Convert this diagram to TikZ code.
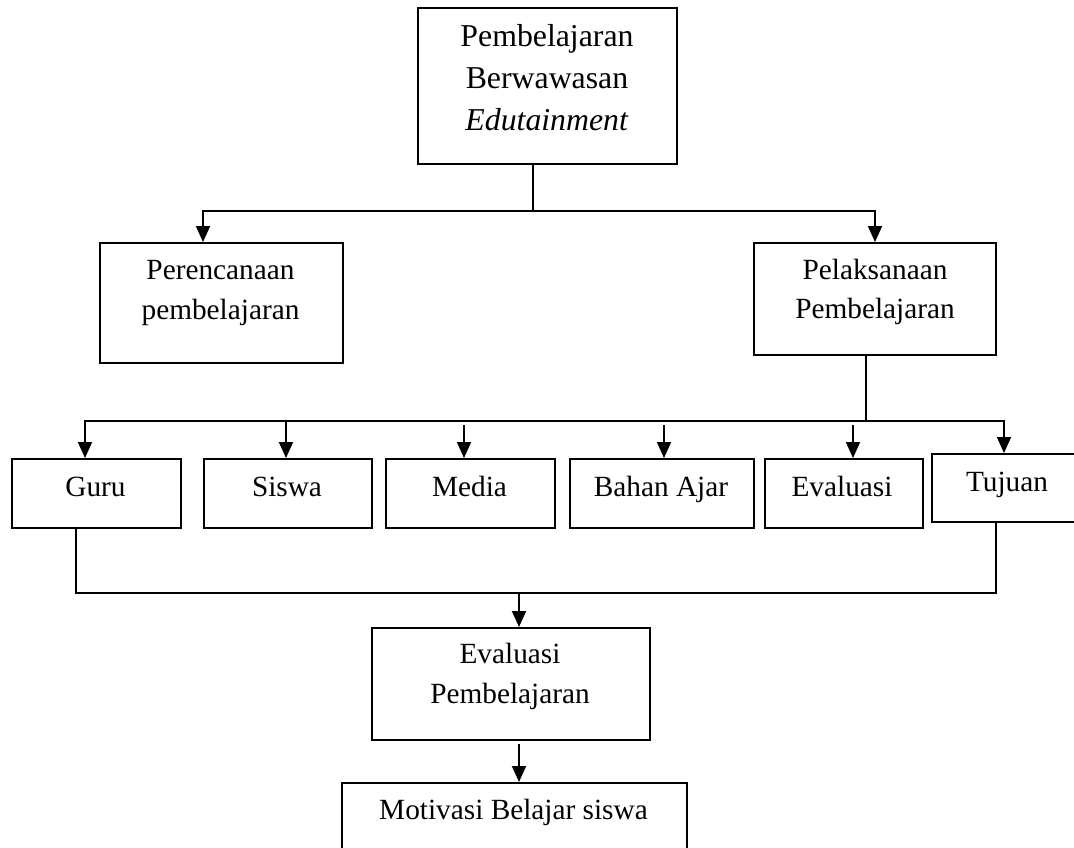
\documentclass[tikz,border=0pt]{standalone}
\usepackage{fontspec}
\setmainfont{Liberation Serif}
\usetikzlibrary{arrows.meta}
\begin{document}
\begin{tikzpicture}[x=1pt,y=-1pt,
  box/.style={draw, line width=1.9pt, rectangle, inner sep=0pt, anchor=north west},
  lbl/.style={anchor=base, inner sep=0pt, font=\fontsize{29.3}{35}\selectfont},
  biglbl/.style={anchor=base, inner sep=0pt, font=\fontsize{31.8}{38}\selectfont},
  conn/.style={line width=1.9pt},
  arr/.style={conn, -{Triangle[length=16pt,width=14pt]}}]
\useasboundingbox (0,0) rectangle (1074,848);
% boxes
\node[box, minimum width=259pt, minimum height=156pt] (top) at (417,7) {};
\node[box, minimum width=243pt, minimum height=120pt] (per) at (99,242) {};
\node[box, minimum width=242pt, minimum height=112pt] (pel) at (753,242) {};
\node[box, minimum width=169pt, minimum height=69pt] (guru) at (11,458) {};
\node[box, minimum width=168pt, minimum height=69pt] (siswa) at (203,458) {};
\node[box, minimum width=169pt, minimum height=69pt] (media) at (385,458) {};
\node[box, minimum width=184pt, minimum height=69pt] (bahan) at (569,458) {};
\node[box, minimum width=158pt, minimum height=69pt] (evalb) at (764,458) {};
\node[box, minimum width=150pt, minimum height=68pt] (tuj) at (931,453) {};
\node[box, minimum width=278pt, minimum height=112pt] (evp) at (371,627) {};
\node[box, minimum width=345pt, minimum height=85pt] (mot) at (341,782) {};
% texts
\node[biglbl] (t1) at (547,47) {Pembelajaran};
\node[biglbl] (t2) at (547,89) {Berwawasan};
\node[biglbl] (t3) at (547,131) {\textit{Edutainment}};
\node[lbl] (p1) at (220.5,279) {Perencanaan};
\node[lbl] (p2) at (220.5,319) {pembelajaran};
\node[lbl] (l1) at (875,279) {Pelaksanaan};
\node[lbl] (l2) at (875,318) {Pembelajaran};
\node[lbl] (g1) at (95.5,496) {Guru};
\node[lbl] (s1) at (287,496) {Siswa};
\node[lbl] (m1) at (469.5,496) {Media};
\node[lbl] (b1) at (661,496) {Bahan Ajar};
\node[lbl] (e1) at (842,496) {Evaluasi};
\node[lbl] (u1) at (1007,491) {Tujuan};
\node[lbl] (v1) at (510,663) {Evaluasi};
\node[lbl] (v2) at (510,703) {Pembelajaran};
\node[lbl] (o1) at (513.5,819) {Motivasi Belajar siswa};
% connectors: level 1
\coordinate (j1) at (533,211);
\coordinate (a1) at (203,211);
\coordinate (a2) at (875,211);
\draw[conn] (j1 |- top.south) -- (j1);
\draw[arr] (j1) -| (a1 |- per.north);
\draw[arr] (j1) -| (a2 |- pel.north);
% connectors: level 2
\coordinate (j2) at (866,421);
\coordinate (xg) at (85,421);
\coordinate (xs) at (286,421);
\coordinate (xm) at (464,421);
\coordinate (xb) at (664,421);
\coordinate (xe) at (853,421);
\coordinate (xt) at (1004,421);
\draw[conn] (j2 |- pel.south) -- (j2);
\draw[arr] (j2) -| (xg |- guru.north);
\draw[arr] (j2) -| (xt |- tuj.north);
\draw[arr] (xs) -- (xs |- siswa.north);
\draw[arr] ([yshift=-4pt]xm) -- (xm |- media.north);
\draw[arr] ([yshift=-4pt]xb) -- (xb |- bahan.north);
\draw[arr] ([yshift=-4pt]xe) -- (xe |- evalb.north);
% connectors: level 3
\coordinate (bg) at (76,593);
\coordinate (bt) at (996,593);
\coordinate (j3) at (519,593);
\draw[conn] (bg |- guru.south) -- (bg) -- (bt) -- (bt |- tuj.south);
\draw[arr] (j3) -- (j3 |- evp.north);
\draw[arr] ([yshift=-3pt]j3 |- evp.south) -- (j3 |- mot.north);
\end{tikzpicture}
\end{document}
